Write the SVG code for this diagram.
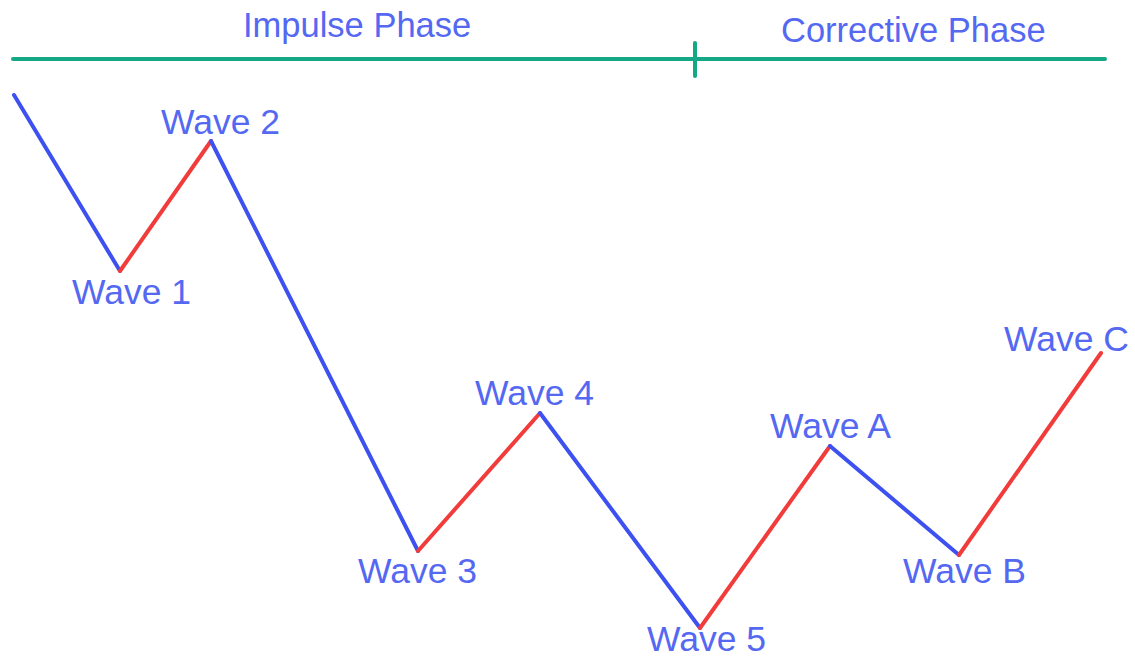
<svg xmlns="http://www.w3.org/2000/svg" width="1135" height="659" viewBox="0 0 1135 659">
<style>
.lbl{font-family:"Liberation Sans",Arial,sans-serif;font-size:35.5px;fill:#5468f2}
.ph{font-family:"Liberation Sans",Arial,sans-serif;font-size:34.5px;fill:#5468f2}
.b{stroke:#3d50f0;stroke-width:4;stroke-linecap:round;fill:none}
.r{stroke:#f23c3c;stroke-width:4;stroke-linecap:round;fill:none}
.g{stroke:#14a884;stroke-width:4;stroke-linecap:round;fill:none}
</style>
<rect width="1135" height="659" fill="#ffffff"/>
<g id="phase-bar">
<line class="g" x1="13" y1="59" x2="1105" y2="59"/>
<line class="g" x1="695" y1="43" x2="695" y2="76"/>
<text class="ph" x="243" y="37">Impulse Phase</text>
<text class="ph" x="781" y="42">Corrective Phase</text>
</g>
<g id="connectors">
<line class="b" x1="14" y1="95" x2="120" y2="271"/>
<line class="r" x1="120" y1="271" x2="211" y2="141"/>
<line class="b" x1="211" y1="141" x2="418" y2="551"/>
<line class="r" x1="418" y1="551" x2="540" y2="413"/>
<line class="b" x1="540" y1="413" x2="700" y2="628"/>
<line class="r" x1="700" y1="628" x2="830" y2="446"/>
<line class="b" x1="830" y1="446" x2="959" y2="555"/>
<line class="r" x1="959" y1="555" x2="1101" y2="353"/>
</g>
<g id="wave1"><text class="lbl" x="72" y="304">Wave 1</text></g>
<g id="wave2"><text class="lbl" x="161" y="134">Wave 2</text></g>
<g id="wave3"><text class="lbl" x="358" y="583">Wave 3</text></g>
<g id="wave4"><text class="lbl" x="475" y="405">Wave 4</text></g>
<g id="wave5"><text class="lbl" x="647" y="651">Wave 5</text></g>
<g id="waveA"><text class="lbl" x="770" y="438">Wave A</text></g>
<g id="waveB"><text class="lbl" x="903" y="583">Wave B</text></g>
<g id="waveC"><text class="lbl" x="1004" y="351">Wave C</text></g>
</svg>
